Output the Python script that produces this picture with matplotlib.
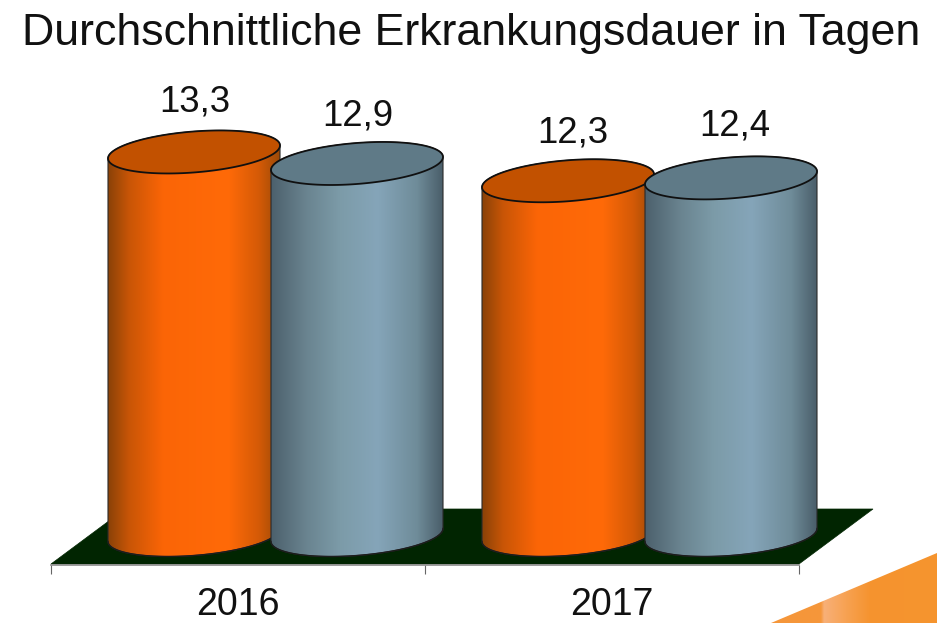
import numpy as np
import matplotlib
matplotlib.use("Agg")
import matplotlib.pyplot as plt
from matplotlib.colors import LinearSegmentedColormap
from matplotlib.patches import Polygon

plt.rcParams['font.family'] = ['Liberation Sans', 'DejaVu Sans']

# --- Data ---
years = ['2016', '2017']
series_a = [13.3, 12.3]
series_b = [12.9, 12.4]
labels_a = ['13,3', '12,3']
labels_b = ['12,9', '12,4']

# --- Scale: pixels per data unit ---
PX_X = 374.0
PX_Y = 28.8

orange_cmap = LinearSegmentedColormap.from_list('o', [(0, '#8a4208'), (0.12, '#c85506'), (0.32, '#fb6506'),
                                                     (0.7, '#ff6a08'), (0.88, '#d45a06'), (1, '#9c4a08')])
blue_cmap = LinearSegmentedColormap.from_list('b', [(0, '#4c606c'), (0.2, '#69838f'), (0.4, '#7c9ba8'),
                                                   (0.62, '#85a5b9'), (0.85, '#6f8c99'), (1, '#4a5e6a')])

fig = plt.figure(figsize=(9.46, 6.23), dpi=100)
ax = fig.add_axes([51 / 946, (623 - 565) / 623, 748 / 946, 565 / 623])
ax.patch.set_visible(False)
xlim = (-0.5, 1.5)
ylim = (-30 / PX_Y, 535 / PX_Y)


def ellipse_pts(cx, val, t):
    # sheared ellipse, slopes up to the right
    x = cx + 86 / PX_X * np.cos(t)
    y = val + (6.5 * np.cos(t) + 20.5 * np.sin(t)) / PX_Y
    return x, y


def cylinder(cx, val, cmap, top_color, z):
    t_low = np.linspace(np.pi, 2 * np.pi, 120)
    bx, by = ellipse_pts(cx, 0, t_low)
    t_up = np.linspace(0, np.pi, 120)
    tx, ty = ellipse_pts(cx, val, t_up)
    body = Polygon(np.r_[np.c_[bx, by], np.c_[tx, ty]], closed=True, transform=ax.transData,
                   fc='none', ec='#2a2a2a', lw=0.8, clip_on=False, zorder=z + 0.1)
    ax.add_patch(body)
    grad = np.linspace(0, 1, 256).reshape(1, -1)
    im = ax.imshow(grad, cmap=cmap, aspect='auto', zorder=z, interpolation='bilinear',
                   extent=[cx - 86 / PX_X, cx + 86 / PX_X, -25 / PX_Y, val + 25 / PX_Y])
    im.set_clip_path(body)
    im.set_clip_box(fig.bbox)
    # bottom edge is darker
    ax.plot(bx, by, color='#1c1c1c', lw=1.0, clip_on=False, zorder=z + 0.2)
    t = np.linspace(0, 2 * np.pi, 200)
    ex, ey = ellipse_pts(cx, val, t)
    ax.fill(ex, ey, fc=top_color, ec='#101010', lw=1.3, clip_on=False, zorder=z + 0.3)


# --- Floor ---
floor = Polygon([(-0.5, -29 / PX_Y), (1.5, -29 / PX_Y), (1.5 + 74 / PX_X, 26 / PX_Y), (-0.5 + 74 / PX_X, 26 / PX_Y)],
                closed=True, fc='#012501', ec='#012501', lw=0.5, clip_on=False, zorder=1)
ax.add_patch(floor)

# --- Cylinders and value labels ---
off_a = -44 / PX_X
off_b = 119 / PX_X
label_dx_a = [0.5, 3.5]
label_dx_b = [0.5, 3.0]
label_dy_a = [36, 34.5]
label_dy_b = [34.5, 37.5]
for i, year in enumerate(years):
    cylinder(i + off_a, series_a[i], orange_cmap, '#c25100', 3 + i * 2)
    ax.annotate(labels_a[i], (i + off_a, series_a[i]), xytext=(label_dx_a[i], label_dy_a[i]),
                textcoords='offset points', ha='center', va='center', fontsize=26.3, color='#111111',
                annotation_clip=False, zorder=9)
    cylinder(i + off_b, series_b[i], blue_cmap, '#5f7a87', 4 + i * 2)
    ax.annotate(labels_b[i], (i + off_b, series_b[i]), xytext=(label_dx_b[i], label_dy_b[i]),
                textcoords='offset points', ha='center', va='center', fontsize=26.3, color='#111111',
                annotation_clip=False, zorder=9)

# --- Axis ---
ax.set_xlim(xlim)
ax.set_ylim(ylim)
for s in ['top', 'left', 'right']:
    ax.spines[s].set_visible(False)
ax.spines['bottom'].set_color('#8c8c8c')
ax.spines['bottom'].set_linewidth(1.2)
ax.set_yticks([])
ax.set_xticks([0, 1])
ax.set_xticklabels(years, fontsize=27, color='#111111')
ax.set_xticks([-0.5, 0.5, 1.5], minor=True)
ax.tick_params(axis='x', which='major', length=0, pad=16)
ax.tick_params(axis='x', which='minor', length=6.5, width=0.8, color='#666666')

# --- Title ---
fig.text(471 / 946, 1 - 33 / 623, 'Durchschnittliche Erkrankungsdauer in Tagen', ha='center', va='center',
         fontsize=32.2, color='#111111')

# --- Orange corner decoration ---
bg = fig.add_axes([0, 0, 1, 1], zorder=-1)
bg.set_xlim(0, 946)
bg.set_ylim(623, 0)
bg.axis('off')
wedge = Polygon([(771, 623), (937, 553), (937, 623)], closed=True, fc='none', ec='none')
bg.add_patch(wedge)
corner_cmap = LinearSegmentedColormap.from_list('c', [(0, '#f6963a'), (0.3, '#f5973a'), (0.32, '#f8b078'),
                                                     (0.45, '#f7a253'), (0.6, '#f5932e'), (1, '#f6952f')])
im = bg.imshow(np.linspace(0, 1, 256).reshape(1, -1), cmap=corner_cmap, aspect='auto', extent=[771, 937, 623, 553])
im.set_clip_path(wedge)
bg.set_xlim(0, 946)
bg.set_ylim(623, 0)

plt.savefig('out.png', dpi=100)
